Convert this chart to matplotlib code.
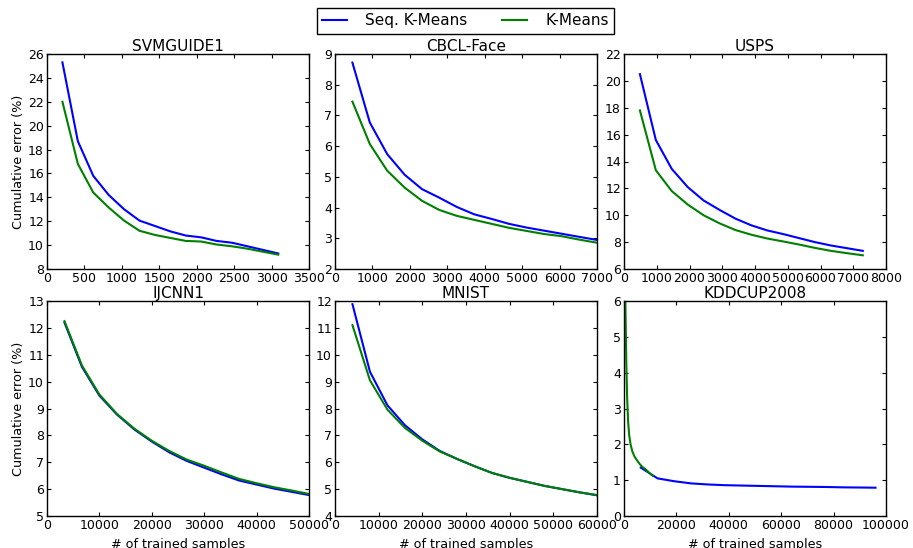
import matplotlib
matplotlib.use("Agg")
import matplotlib.pyplot as plt

plt.rcParams['font.family'] = ['DejaVu Sans']
plt.rcParams['xtick.direction'] = 'in'
plt.rcParams['ytick.direction'] = 'in'
plt.rcParams['xtick.top'] = True
plt.rcParams['ytick.right'] = True

# ---------------- data ----------------
titles = ["SVMGUIDE1", "CBCL-Face", "USPS", "IJCNN1", "MNIST", "KDDCUP2008"]
series_names = ["Seq. K-Means", "K-Means"]

svm_x = [206, 412, 618, 824, 1030, 1236, 1442, 1648, 1854, 2060, 2266, 2472, 2678, 2884, 3089]
svm_seq = [25.3, 18.7, 15.8, 14.2, 13.0, 12.05, 11.6, 11.15, 10.8, 10.65, 10.35, 10.2, 9.9, 9.6, 9.3]
svm_km = [22.0, 16.8, 14.4, 13.15, 12.05, 11.2, 10.85, 10.6, 10.35, 10.3, 10.05, 9.9, 9.7, 9.45, 9.2]

cbcl_x = [465, 930, 1395, 1860, 2325, 2790, 3255, 3720, 4185, 4650, 5115, 5580, 6045, 6510, 6977]
cbcl_seq = [8.72, 6.77, 5.74, 5.07, 4.6, 4.32, 4.02, 3.78, 3.63, 3.47, 3.35, 3.25, 3.15, 3.05, 2.95]
cbcl_km = [7.45, 6.07, 5.2, 4.65, 4.22, 3.92, 3.73, 3.6, 3.47, 3.34, 3.24, 3.14, 3.07, 2.96, 2.86]

usps_x = [486, 972, 1458, 1944, 2430, 2916, 3402, 3888, 4374, 4860, 5346, 5832, 6318, 6804, 7291]
usps_seq = [20.5, 15.6, 13.45, 12.1, 11.1, 10.4, 9.75, 9.25, 8.87, 8.6, 8.3, 8.0, 7.75, 7.55, 7.35]
usps_km = [17.8, 13.35, 11.8, 10.8, 10.0, 9.4, 8.9, 8.55, 8.27, 8.05, 7.82, 7.57, 7.35, 7.18, 7.02]

ijc_x = [3333, 6666, 9999, 13332, 16665, 19998, 23331, 26664, 29997, 33330, 36663, 39996, 43329, 46662, 49990]
ijc_seq = [12.2, 10.55, 9.48, 8.78, 8.22, 7.77, 7.37, 7.05, 6.8, 6.55, 6.32, 6.17, 6.02, 5.9, 5.78]
ijc_km = [12.25, 10.6, 9.52, 8.8, 8.25, 7.8, 7.42, 7.1, 6.87, 6.62, 6.38, 6.22, 6.07, 5.95, 5.82]

mnist_x = [4000, 8000, 12000, 16000, 20000, 24000, 28000, 32000, 36000, 40000, 44000, 48000, 52000, 56000, 60000]
mnist_seq = [11.88, 9.37, 8.12, 7.38, 6.85, 6.42, 6.12, 5.85, 5.6, 5.42, 5.27, 5.12, 5.0, 4.88, 4.77]
mnist_km = [11.1, 9.05, 7.96, 7.28, 6.8, 6.4, 6.12, 5.85, 5.6, 5.42, 5.27, 5.12, 5.0, 4.88, 4.78]

kdd_seq_x = [6400, 12800, 19200, 25600, 32000, 38400, 44800, 51200, 57600, 64000, 70400, 76800, 83200, 89600, 96000]
kdd_seq = [1.35, 1.05, 0.97, 0.91, 0.88, 0.86, 0.85, 0.84, 0.83, 0.82, 0.815, 0.81, 0.80, 0.795, 0.79]
kdd_km_x = [300, 600, 900, 1200, 1600, 2000, 2500, 3200, 4000, 5000, 6000, 7000, 8000, 9000, 10000, 11000]
kdd_km = [7.5, 5.6, 4.2, 3.3, 2.6, 2.25, 2.0, 1.8, 1.66, 1.55, 1.45, 1.37, 1.32, 1.25, 1.18, 1.12]

panels = [
    (svm_x, svm_seq, svm_x, svm_km, (0, 3500), [0, 500, 1000, 1500, 2000, 2500, 3000, 3500], (8, 26), [8, 10, 12, 14, 16, 18, 20, 22, 24, 26]),
    (cbcl_x, cbcl_seq, cbcl_x, cbcl_km, (0, 7000), [0, 1000, 2000, 3000, 4000, 5000, 6000, 7000], (2, 9), [2, 3, 4, 5, 6, 7, 8, 9]),
    (usps_x, usps_seq, usps_x, usps_km, (0, 8000), [0, 1000, 2000, 3000, 4000, 5000, 6000, 7000, 8000], (6, 22), [6, 8, 10, 12, 14, 16, 18, 20, 22]),
    (ijc_x, ijc_seq, ijc_x, ijc_km, (0, 50000), [0, 10000, 20000, 30000, 40000, 50000], (5, 13), [5, 6, 7, 8, 9, 10, 11, 12, 13]),
    (mnist_x, mnist_seq, mnist_x, mnist_km, (0, 60000), [0, 10000, 20000, 30000, 40000, 50000, 60000], (4, 12), [4, 5, 6, 7, 8, 9, 10, 11, 12]),
    (kdd_seq_x, kdd_seq, kdd_km_x, kdd_km, (0, 100000), [0, 20000, 40000, 60000, 80000, 100000], (0, 6), [0, 1, 2, 3, 4, 5, 6]),
]

fig = plt.figure(figsize=(9.13, 5.48), dpi=100)
W, H = 913.0, 548.0
lefts = [47, 335, 624]
aw = 262
tops = [54, 301]
ah = 215

handles = None
for i, (xs, ys, xk, yk, xl, xt, yl, yt) in enumerate(panels):
    r, c = divmod(i, 3)
    ax = fig.add_axes([lefts[c] / W, 1 - (tops[r] + ah) / H, aw / W, ah / H])
    h1, = ax.plot(xs, ys, color=(0, 0, 1), lw=1.5, label=series_names[0])
    h2, = ax.plot(xk, yk, color=(0, 0.5, 0), lw=1.5, label=series_names[1])
    if handles is None:
        handles = [h1, h2]
    ax.set_xlim(*xl)
    ax.set_ylim(*yl)
    ax.set_xticks(xt)
    ax.set_yticks(yt)
    ax.tick_params(labelsize=9, length=3, width=0.8, pad=2.2, colors='black')
    ax.set_title(titles[i], fontsize=11, pad=2.5)
    for s in ax.spines.values():
        s.set_linewidth(1.0)
    if c == 0:
        ax.set_ylabel("Cumulative error (%)", fontsize=9.2, labelpad=2)
    if r == 1:
        ax.set_xlabel("# of trained samples", fontsize=9.2, labelpad=4)

fig.legend(handles, series_names, loc='upper center', bbox_to_anchor=(465.5 / W, 1 - 8 / H),
           bbox_transform=fig.transFigure, ncol=2, fontsize=11, fancybox=False,
           edgecolor='black', framealpha=1, borderaxespad=0, borderpad=0.35,
           handlelength=1.6, handletextpad=1.2, columnspacing=2.3)

fig.savefig("out.png", dpi=100, facecolor='white')
